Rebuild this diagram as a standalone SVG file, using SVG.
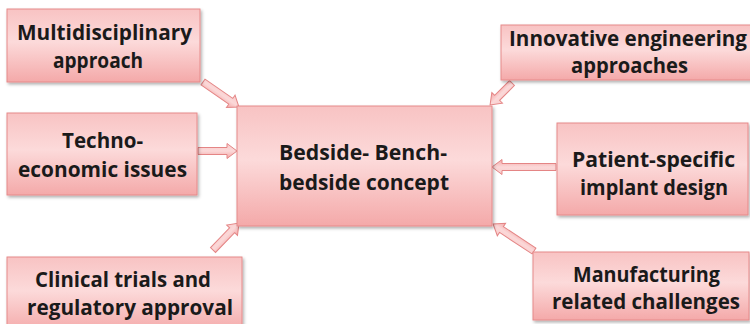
<svg xmlns="http://www.w3.org/2000/svg" width="750" height="324" viewBox="0 0 750 324">
  <defs>
    <linearGradient id="boxFill" x1="0" y1="0" x2="0" y2="1">
      <stop offset="0" stop-color="#f8c3c3"/>
      <stop offset="0.45" stop-color="#fcdada"/>
      <stop offset="1" stop-color="#f4a9a9"/>
    </linearGradient>
    <linearGradient id="arrowFill" x1="0" y1="0" x2="0" y2="1">
      <stop offset="0" stop-color="#f9cccc"/>
      <stop offset="0.5" stop-color="#fbd8d8"/>
      <stop offset="1" stop-color="#f3a6a6"/>
    </linearGradient>
    <filter id="shadow" x="-5%" y="-5%" width="115%" height="120%">
      <feDropShadow dx="1.5" dy="2" stdDeviation="1.5" flood-color="#000" flood-opacity="0.3"/>
    </filter>
  </defs>
  <style>
    .box { fill: url(#boxFill); stroke: #e68a8a; stroke-width: 1; filter: url(#shadow); }
    .arrow { fill: url(#arrowFill); stroke: #e48585; stroke-width: 1; stroke-linejoin: miter; }
    .label { font-family: "Open Sans", Lato, "Liberation Sans", sans-serif; font-weight: bold; font-size: 22px; fill: #1a1a1a; }
    .tight { font-size: 21px; }
  </style>
  <rect width="750" height="324" fill="#ffffff"/>

  <!-- connectors: block arrows pointing into the central box -->
  <g id="connectors">
    <path class="arrow" transform="translate(203,82) rotate(34.8)" d="M0,-3.5 L33.8,-3.5 L33.8,-7.5 L43.8,0 L33.8,7.5 L33.8,3.5 L0,3.5 Z"/>
    <path class="arrow" transform="translate(512,83) rotate(135)" d="M0,-3.5 L21,-3.5 L21,-7.5 L31,0 L21,7.5 L21,3.5 L0,3.5 Z"/>
    <path class="arrow" transform="translate(198,151)" d="M0,-3.5 L29,-3.5 L29,-7.5 L39,0 L29,7.5 L29,3.5 L0,3.5 Z"/>
    <path class="arrow" transform="translate(556,167) rotate(180)" d="M0,-3.5 L54,-3.5 L54,-7.5 L64,0 L54,7.5 L54,3.5 L0,3.5 Z"/>
    <path class="arrow" transform="translate(213,250) rotate(-46)" d="M0,-3.5 L27.5,-3.5 L27.5,-7.5 L37.5,0 L27.5,7.5 L27.5,3.5 L0,3.5 Z"/>
    <path class="arrow" transform="translate(534,251) rotate(-146.6)" d="M0,-3.5 L39,-3.5 L39,-7.5 L49,0 L39,7.5 L39,3.5 L0,3.5 Z"/>
  </g>

  <g id="multidisciplinary">
    <rect class="box" x="7" y="9" width="193" height="73"/>
    <text class="label" x="17" y="40" textLength="175" lengthAdjust="spacingAndGlyphs">Multidisciplinary</text>
    <text class="label" x="53" y="68" textLength="90" lengthAdjust="spacingAndGlyphs">approach</text>
  </g>

  <g id="innovative">
    <rect class="box" x="501" y="25" width="260" height="55"/>
    <text class="label tight" x="509" y="46" textLength="238" lengthAdjust="spacingAndGlyphs">Innovative engineering</text>
    <text class="label tight" x="571" y="73" textLength="117" lengthAdjust="spacingAndGlyphs">approaches</text>
  </g>

  <g id="techno">
    <rect class="box" x="7" y="113" width="190" height="82"/>
    <text class="label" x="62" y="148" textLength="81" lengthAdjust="spacingAndGlyphs">Techno-</text>
    <text class="label" x="18" y="177" textLength="169" lengthAdjust="spacingAndGlyphs">economic issues</text>
  </g>

  <g id="center">
    <rect class="box" x="237" y="106" width="255" height="120"/>
    <text class="label" x="279" y="160" textLength="168" lengthAdjust="spacingAndGlyphs">Bedside- Bench-</text>
    <text class="label" x="279" y="190" textLength="170" lengthAdjust="spacingAndGlyphs">bedside concept</text>
  </g>

  <g id="patient">
    <rect class="box" x="557" y="123" width="191" height="92"/>
    <text class="label" x="572" y="167" textLength="163" lengthAdjust="spacingAndGlyphs">Patient-specific</text>
    <text class="label" x="580" y="195" textLength="148" lengthAdjust="spacingAndGlyphs">implant design</text>
  </g>

  <g id="clinical">
    <rect class="box" x="7" y="257" width="235" height="75"/>
    <text class="label" x="35" y="287" textLength="176" lengthAdjust="spacingAndGlyphs">Clinical trials and</text>
    <text class="label" x="27" y="315" textLength="206" lengthAdjust="spacingAndGlyphs">regulatory approval</text>
  </g>

  <g id="manufacturing">
    <rect class="box" x="533" y="252" width="216" height="68"/>
    <text class="label tight" x="573" y="282" textLength="147" lengthAdjust="spacingAndGlyphs">Manufacturing</text>
    <text class="label tight" x="552" y="309" textLength="188" lengthAdjust="spacingAndGlyphs">related challenges</text>
  </g>
</svg>
